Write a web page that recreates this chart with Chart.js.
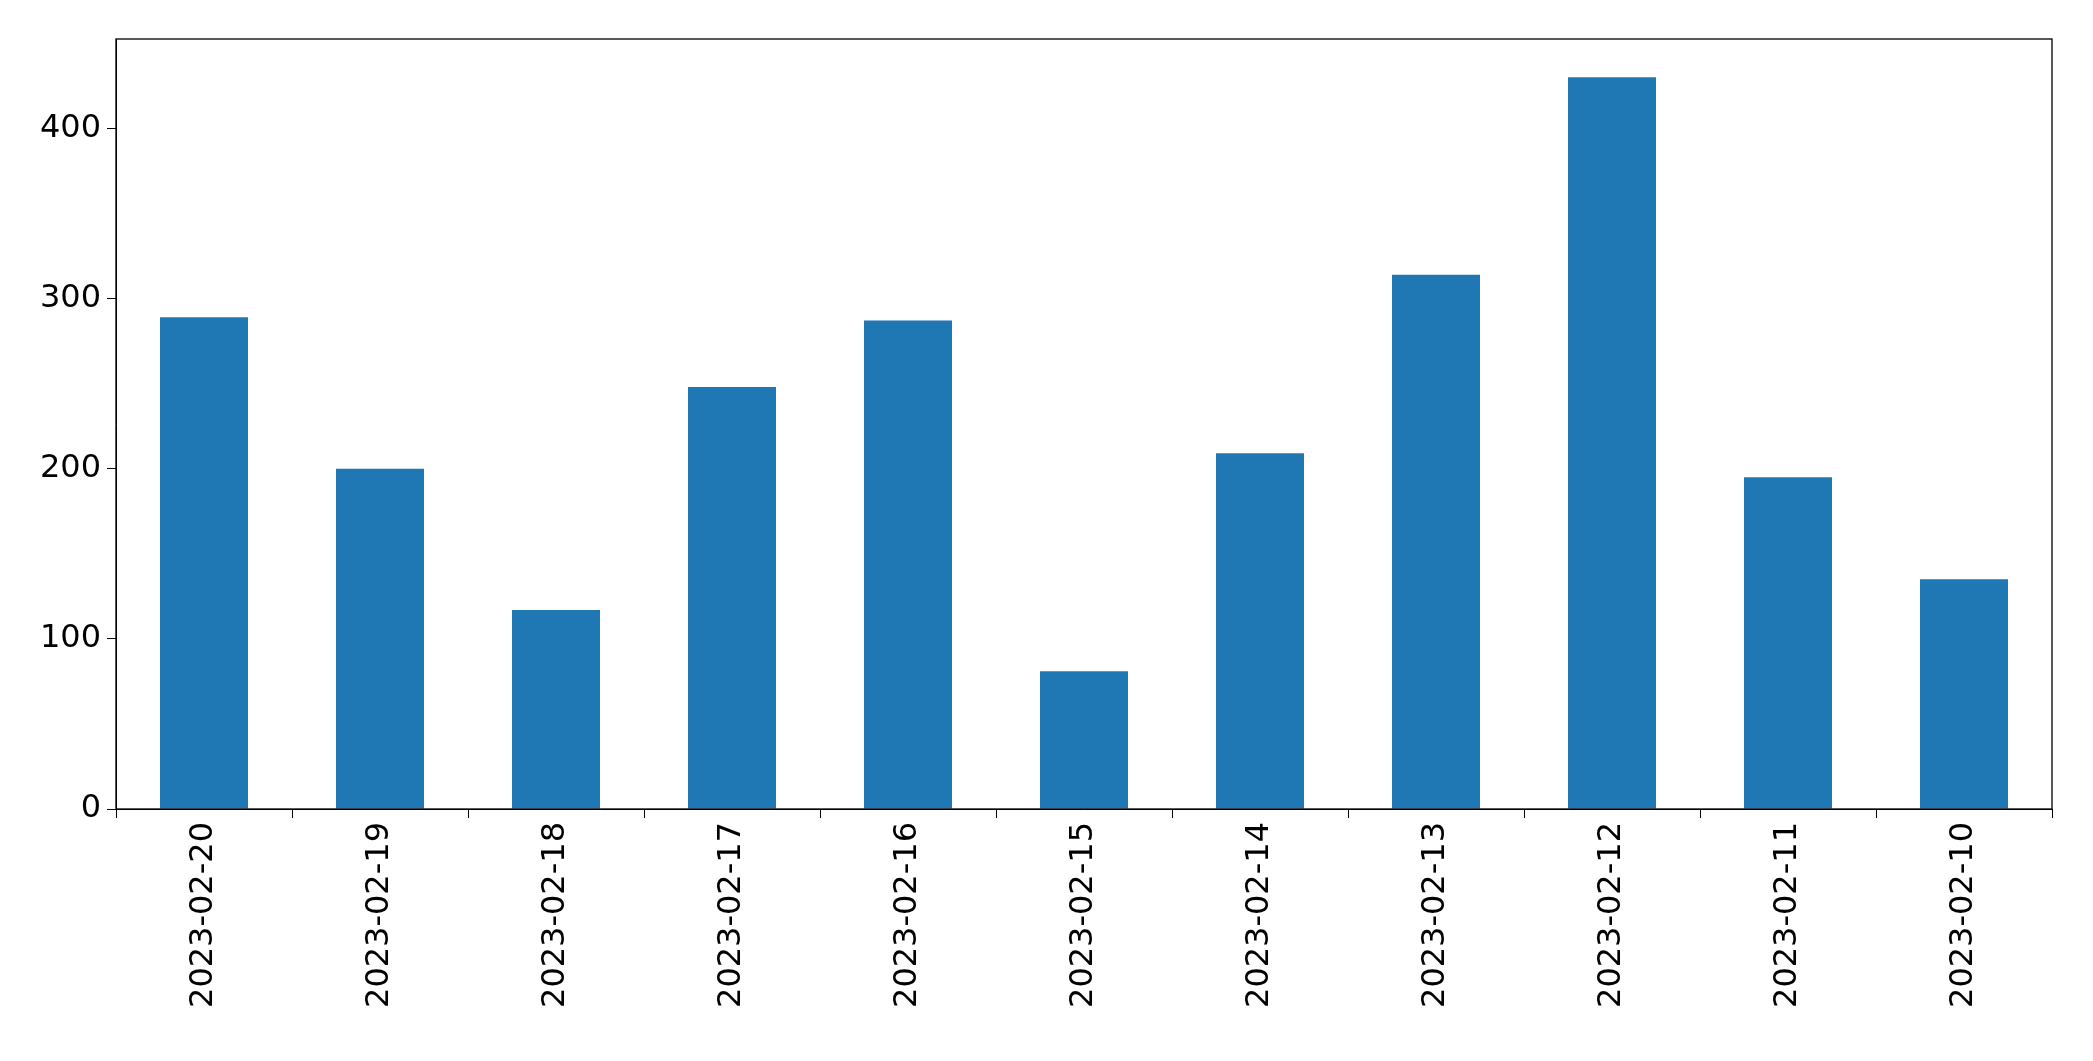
<!DOCTYPE html>
<html><head><meta charset="utf-8">
<script src="https://cdn.jsdelivr.net/npm/chart.js@4"></script>
<style>html,body{margin:0;padding:0;background:#fff}#w{width:2093px;height:1061px}</style>
</head><body><div id="w"><canvas id="c"></canvas></div>
<script>
const categories = ["2023-02-20","2023-02-19","2023-02-18","2023-02-17","2023-02-16","2023-02-15","2023-02-14","2023-02-13","2023-02-12","2023-02-11","2023-02-10"];
const values = [289, 200, 117, 248, 287, 81, 209, 314, 430, 195, 135];
const yTicks = [0, 100, 200, 300, 400];

const frame = {id:'frame', afterDraw(ch){const a=ch.chartArea,c=ch.ctx;c.save();c.strokeStyle='#000';c.lineWidth=1.3;c.strokeRect(a.left,a.top,a.right-a.left,a.bottom-a.top);c.restore();}};
new Chart(document.getElementById('c'), {
  type:'bar',
  data:{labels:categories, datasets:[{data:values, backgroundColor:'#1f77b4', categoryPercentage:0.5, barPercentage:1}]},
  options:{
    responsive:true, maintainAspectRatio:false, animation:false,
    devicePixelRatio:1,
    layout:{padding:{top:39,right:41,left:0,bottom:0}},
    plugins:{legend:{display:false},tooltip:{enabled:false}},
    scales:{
      x:{offset:true, grid:{drawOnChartArea:false,drawTicks:true,tickLength:9,color:'#000'}, border:{color:'#000'},
         ticks:{color:'#000',font:{family:'DejaVu Sans',size:32},maxRotation:90,minRotation:90,padding:4},
         afterFit(s){s.height=252;}},
      y:{min:0,max:452.5, afterBuildTicks(s){s.ticks=yTicks.map(v=>({value:v}));},
         grid:{drawOnChartArea:false,drawTicks:true,tickLength:9,color:'#000'}, border:{color:'#000'},
         ticks:{color:'#000',font:{family:'DejaVu Sans',size:32},padding:6},
         afterFit(s){s.width=116;}}
    }
  },
  plugins:[frame]
});
</script></body></html>
